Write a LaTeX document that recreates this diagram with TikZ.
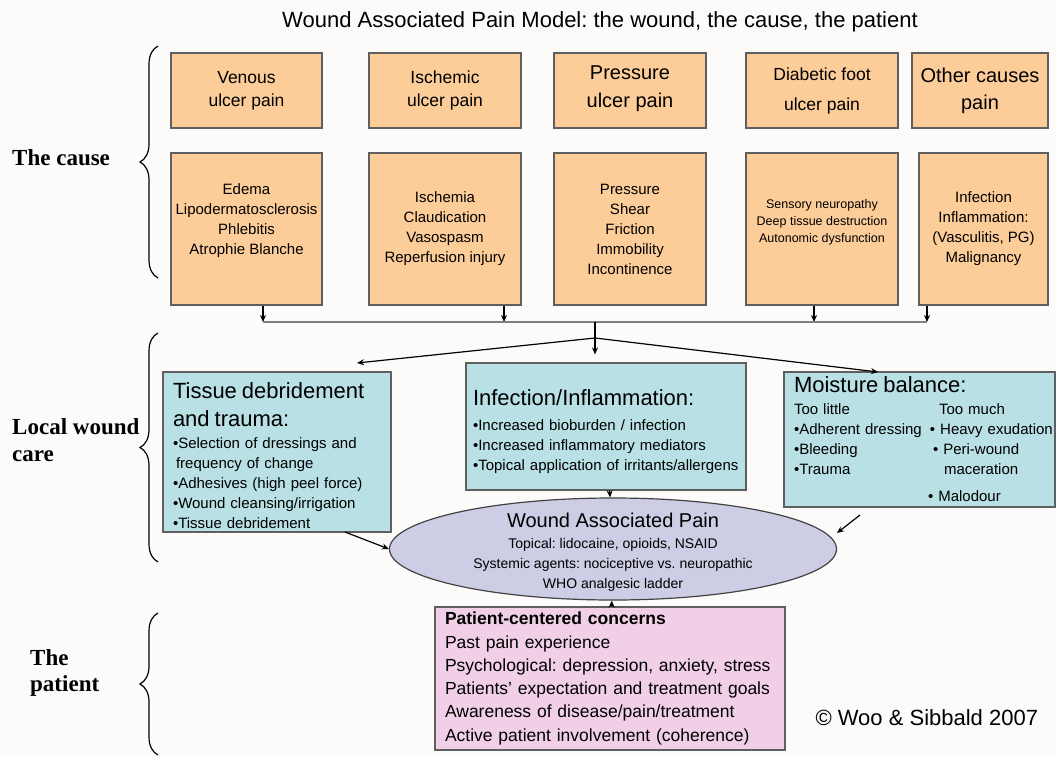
\documentclass[tikz,border=0pt]{standalone}
\usepackage{fontspec}
\setmainfont{Liberation Sans}
\newfontfamily\sidefont{Liberation Serif}
\usepackage{tikz}
\usetikzlibrary{positioning, arrows.meta, shapes.geometric, decorations.pathreplacing}
\definecolor{peach}{RGB}{252,204,153}
\definecolor{aqua}{RGB}{185,224,229}
\definecolor{lilac}{RGB}{205,205,230}
\definecolor{rose}{RGB}{241,207,230}
\definecolor{boxline}{RGB}{95,95,95}
\definecolor{bgcol}{RGB}{252,251,250}
\newcommand{\fs}[2]{\fontsize{#1}{#2}\selectfont}
\frenchspacing
\tikzstyle{causebox} = [draw=boxline, line width=1.2pt, rectangle, fill=peach, align=center, inner sep=2pt]
\tikzstyle{carebox} = [draw=boxline, line width=1.2pt, rectangle, fill=aqua, align=left, inner xsep=10pt, inner ysep=2pt, font=\fs{15}{20}]
\tikzstyle{patientbox} = [draw=boxline, line width=1.2pt, rectangle, fill=rose, align=left, inner xsep=10pt]
\tikzstyle{painbox} = [draw=boxline!70!black, line width=1.2pt, ellipse, fill=lilac, inner sep=0pt]
\tikzstyle{sidelabel} = [font=\sidefont\bfseries\fs{23}{26.5}, align=left, anchor=west, inner sep=0pt]
\tikzstyle{flow} = [-{Stealth[length=7pt, width=6pt]}, line width=1.2pt, black]
\tikzstyle{busline} = [line width=1.5pt, black!50]
\tikzstyle{sidebrace} = [decorate, decoration={brace, amplitude=18pt}, line width=1.2pt]

\begin{document}
\begin{tikzpicture}[x=1pt, y=-1pt]
  \useasboundingbox[fill=bgcol] (0,0) rectangle (1056,757);

  \node[font=\fs{22}{24}, anchor=base] (title) at (600,28) {Wound Associated Pain Model: the wound, the cause, the patient};

  % the cause
  \node[causebox, minimum width=151, minimum height=75, font=\fs{17.5}{23}] (venous) at (246.5,90.5) {Venous\\ulcer pain};
  \node[causebox, minimum width=152, minimum height=75, font=\fs{17.5}{23}] (ischemic) at (445,90.5) {Ischemic\\ulcer pain};
  \node[causebox, minimum width=152, minimum height=75, font=\fs{20}{28}] (pressure) at (630,90.5) {Pressure\\ulcer pain\\[-20pt]\mbox{}};
  \node[causebox, minimum width=152, minimum height=75, font=\fs{17.5}{30}] (diabetic) at (822,90.5) {Diabetic foot\\ulcer pain};
  \node[causebox, minimum width=136, minimum height=75, font=\fs{20}{27}] (other) at (980,90.5) {Other causes\\pain};

  \node[causebox, minimum width=151, minimum height=152, font=\fs{15}{20}] (edema) at (246.5,229) {Edema\\Lipodermatosclerosis\\Phlebitis\\Atrophie Blanche\\\mbox{}};
  \node[causebox, minimum width=152, minimum height=152, font=\fs{15}{20}] (ischemia) at (445,229) {Ischemia\\Claudication\\Vasospasm\\Reperfusion injury};
  \node[causebox, minimum width=152, minimum height=152, font=\fs{15}{20}] (shear) at (630,229) {Pressure\\Shear\\Friction\\Immobility\\Incontinence};
  \node[causebox, minimum width=152, minimum height=152, font=\fs{12.5}{17}] (sensory) at (822,229) {Sensory neuropathy\\Deep tissue destruction\\Autonomic dysfunction\\\mbox{}};
  \node[causebox, minimum width=129, minimum height=152, font=\fs{15}{20}] (infection) at (983.5,229) {Infection\\Inflammation:\\(Vasculitis, PG)\\Malignancy};

  \coordinate (b1) at (263,322);
  \coordinate (b2) at (504,322);
  \coordinate (b3) at (814,322);
  \coordinate (b4) at (927,322);
  \coordinate (hub) at (595,322);
  \coordinate (split) at (595,338);
  \draw[flow] (edema.south -| b1) -- (b1);
  \draw[flow] (ischemia.south -| b2) -- (b2);
  \draw[flow] (sensory.south -| b3) -- (b3);
  \draw[flow] (infection.south -| b4) -- (b4);
  \draw[busline] (b1) -- (b4);
  \draw[line width=1.2pt] (hub) -- (split);

  % local wound care
  \node[carebox, minimum width=228, minimum height=160, text width=208] (tissue) at (277,452)
    {\fs{22}{20}\rule{0pt}{24pt}Tissue debridement\\[8pt]and trauma:\\[2pt]\fs{15}{20}•Selection of dressings and\\\hspace*{3pt}frequency of change\\•Adhesives (high peel force)\\•Wound cleansing/irrigation\\•Tissue debridement};
  \node[carebox, minimum width=280, minimum height=127, text width=266, inner xsep=7pt] (infl) at (606,426.5)
    {\fs{22}{20}\rule{0pt}{26pt}Infection/Inflammation:\\[5pt]\fs{15}{20}•Increased bioburden / infection\\•Increased inflammatory mediators\\\mbox{•Topical application of irritants/allergens}};
  \node[carebox, minimum width=271, minimum height=135, text width=251] (moist) at (919.5,439.5)
    {\fs{22}{20}Moisture balance:\\[2pt]\fs{15}{20}\mbox{\makebox[145pt][l]{Too little}Too much}\\\mbox{\makebox[136pt][l]{•Adherent dressing}• Heavy exudation}\\\mbox{\makebox[139pt][l]{•Bleeding}• Peri-wound}\\\mbox{\makebox[150pt][l]{•Trauma}maceration}\\[7pt]\mbox{\hspace*{134pt}• Malodour}};

  \coordinate (tipL) at (357,363);
  \coordinate (tipR) at (878,372);
  \draw[flow] (split) -- (tipL);
  \draw[flow, shorten >=8pt] (split) -- (infl.north -| split);
  \draw[flow] (split) -- (tipR);

  \node[painbox, minimum width=447, minimum height=102] (pain) at (613,549) {};
  \node[font=\fs{14}{20}, align=center, inner sep=0pt] (painT) at ([yshift=-3pt]pain.center)
    {\fs{20}{20}Wound Associated Pain\\[1pt]\fs{14}{20}Topical: lidocaine, opioids, NSAID\\Systemic agents: nociceptive vs. neuropathic\\WHO analgesic ladder};

  \coordinate (tissueOut) at (345,532);
  \coordinate (moistOut) at (860,515);
  \coordinate (moistIn) at (837,533);
  \draw[flow] (infl) -- (pain);
  \draw[flow] (tissueOut) -- (pain.west);
  \draw[flow] (moistOut) -- (moistIn);

  % the patient
  \node[patientbox, minimum width=350, minimum height=143, text width=330, font=\fs{17.5}{23.3}] (patient) at (610,678.5)
    {\textbf{Patient-centered concerns}\\Past pain experience\\Psychological: depression, anxiety, stress\\Patients’ expectation and treatment goals\\Awareness of disease/pain/treatment\\Active patient involvement (coherence)};
  \draw[flow] (patient) -- (pain);

  \node[font=\fs{22}{24}, anchor=base west] (credit) at (812,725) {© Woo \& Sibbald 2007};

  % side labels
  \draw[sidebrace] (158,278) -- (158,46);
  \draw[sidebrace] (158,562) -- (158,333);
  \draw[sidebrace] (158,755) -- (158,613);
  \node[sidelabel] (causeL) at (12,158) {The cause};
  \node[sidelabel] (careL) at (12,440) {Local wound\\care};
  \node[sidelabel] (patientL) at (30,673) {The\\patient};
\end{tikzpicture}
\end{document}
